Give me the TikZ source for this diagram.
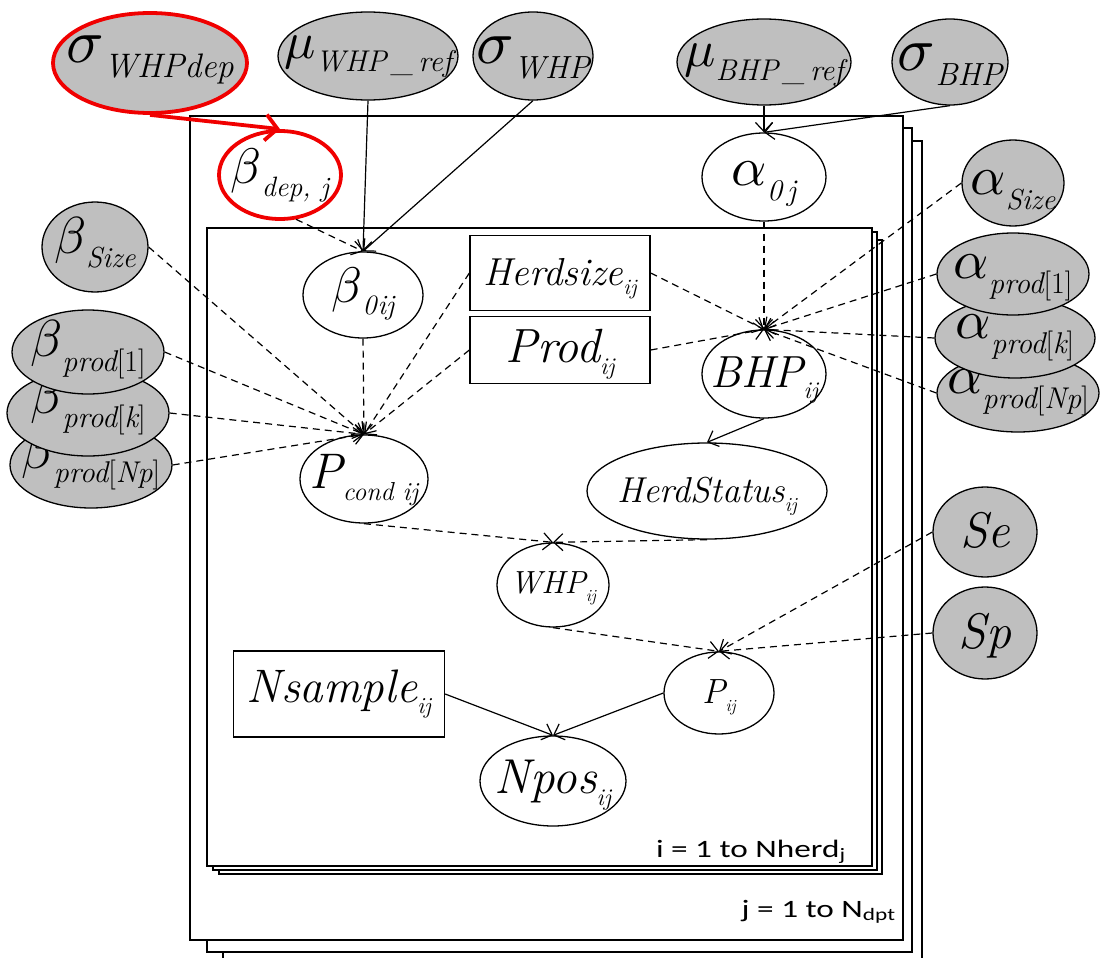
\documentclass[tikz,border=0pt]{standalone}
\usepackage{fontspec}
\newfontfamily\PlateFace{Carlito}
\usetikzlibrary{arrows.meta,shapes.geometric}
\definecolor{ObsFill}{RGB}{191,191,191}
\definecolor{HiDraw}{RGB}{240,0,0}
%% main symbol + lowered index, sizes in pt; the box takes no room, so the
%% shape keeps its minimum size; [#1] = drop of the baseline below the centre
\newcommand{\Lbl}[5][12pt]{\makebox[0pt]{\fontsize{#2}{#2}\selectfont
  \raisebox{-#1}[0pt][0pt]{#4\raisebox{-0.25em}{\fontsize{#3}{#3}\selectfont#5}}}}
%% greek letter, scaled up from 10pt
\newcommand{\Gk}[2]{\scalebox{#1}{\fontsize{10}{10}\selectfont$#2$}}
\newcommand{\PlateLbl}[1]{\scalebox{1.33}[1]{\fontsize{25}{25}\selectfont\PlateFace\upshape #1}}
\tikzset{
  every node/.style={align=center, font=\itshape},
  line cap=round,
  %% base variable
  rvNode/.style={
    ellipse,
    draw=black,
    line width=1.3pt,
    inner sep=0pt,
  },
  obsNode/.style={rvNode, fill=ObsFill},
  latNode/.style={rvNode, fill=white},
  hiNode/.style={rvNode, draw=HiDraw, line width=3.8pt},
  dataBlk/.style={
    rectangle,
    draw=black,
    line width=1.3pt,
    fill=white,
    inner sep=0pt,
  },
  plate/.style={draw=black, line width=1.6pt, fill=white},
  %% arrows
  arr/.style={
    -{Straight Barb[length=9pt,width=17pt,line width=1.2pt]},
    line width=1.2pt,
  },
  darr/.style={arr, dash pattern=on 7pt off 5pt},
  hiarr/.style={
    -{Straight Barb[length=12pt,width=26pt,line width=3.8pt]},
    line width=3.8pt,
    HiDraw,
  },
}

\begin{document}
\begin{tikzpicture}[x=1pt, y=-1pt]
\useasboundingbox (0,0) rectangle (1101,958);

%% ── Plates ─────────────────────────────────────────────────────────────────
\draw[plate] (223,141) rectangle (922,966);
\draw[plate] (207,128) rectangle (912,952);
\draw[plate] (190,116) rectangle (903,940);
\draw[plate] (219,240) rectangle (882,874);
\draw[plate] (213,232) rectangle (877,870);
\draw[plate] (207,228) rectangle (872,866);

\node[anchor=base east, inner sep=0pt] (iRange) at (846,857)
  {\PlateLbl{i = 1 to Nherd\textsubscript{j}}};
\node[anchor=base east, inner sep=0pt] (jRange) at (896,917)
  {\PlateLbl{j = 1 to N\textsubscript{dpt}}};

%% ── Hyper-priors ───────────────────────────────────────────────────────────
\node[obsNode, hiNode, minimum width=194pt, minimum height=100pt] (sWHPdep) at (150,63)
  {\Lbl[0pt]{60}{34}{\Gk{6.2}{\sigma}}{WHPdep}};
\node[obsNode, minimum width=180pt, minimum height=88pt] (mWHP) at (368,56)
  {\Lbl[2pt]{56}{30}{\Gk{5.2}{\mu}}{WHP\,\_\,ref}};
\node[obsNode, minimum width=120pt, minimum height=88pt] (sWHP) at (533,56)
  {\Lbl[8pt]{60}{32}{\Gk{6.2}{\sigma}}{WHP}};
\node[obsNode, minimum width=174pt, minimum height=86pt] (mBHP) at (764,62)
  {\Lbl[5pt]{56}{30}{\Gk{5.2}{\mu}}{BHP\,\_\,ref}};
\node[obsNode, minimum width=116pt, minimum height=86pt] (sBHP) at (950,62)
  {\Lbl[9pt]{60}{32}{\Gk{6.2}{\sigma}}{BHP}};

%% ── Department level ───────────────────────────────────────────────────────
\node[latNode, hiNode, minimum width=122pt, minimum height=88pt] (bDep) at (280,175)
  {\Lbl[8pt]{54}{28}{\Gk{5.0}{\beta}}{dep, j}};
\node[latNode, minimum width=124pt, minimum height=88pt] (a0) at (764,177)
  {\Lbl[8pt]{60}{30}{\Gk{5.5}{\alpha}}{0\,j}};

%% ── Covariate coefficients ─────────────────────────────────────────────────
\node[obsNode, minimum width=102pt, minimum height=86pt] (aSize) at (1013,183)
  {\Lbl[11pt]{60}{29}{\Gk{5.5}{\alpha}}{Size}};
\node[obsNode, minimum width=162pt, minimum height=78pt] (aProdN) at (1018,393)
  {\Lbl[0pt]{60}{30}{\Gk{5.5}{\alpha}}{prod{\upshape[}Np{\upshape]}}};
\node[obsNode, minimum width=160pt, minimum height=80pt] (aProdK) at (1015,338)
  {\Lbl[0pt]{60}{30}{\Gk{5.5}{\alpha}}{prod{\upshape[}k{\upshape]}}};
\node[obsNode, minimum width=152pt, minimum height=82pt] (aProd1) at (1013,274)
  {\Lbl[4pt]{60}{30}{\Gk{5.5}{\alpha}}{prod{\upshape[1]}}};

\node[obsNode, minimum width=106pt, minimum height=90pt] (bSize) at (95,247)
  {\Lbl[6pt]{56}{29}{\Gk{5.2}{\beta}}{Size}};
\node[obsNode, minimum width=162pt, minimum height=86pt] (bProdN) at (91,465)
  {\Lbl[3pt]{56}{30}{\Gk{5.2}{\beta}}{prod{\upshape[}Np{\upshape]}}};
\node[obsNode, minimum width=162pt, minimum height=86pt] (bProdK) at (88,413)
  {\Lbl[0pt]{56}{30}{\Gk{5.2}{\beta}}{prod{\upshape[}k{\upshape]}}};
\node[obsNode, minimum width=152pt, minimum height=84pt] (bProd1) at (88,352)
  {\Lbl[5pt]{56}{30}{\Gk{5.2}{\beta}}{prod{\upshape[1]}}};

%% ── Herd level ─────────────────────────────────────────────────────────────
\node[latNode, minimum width=120pt, minimum height=86pt] (b0) at (363,295)
  {\Lbl[7pt]{50}{28}{\Gk{5.0}{\beta}}{0\kern1pt ij}};
\node[dataBlk, minimum width=180pt, minimum height=75pt] (herdsize) at (560,273)
  {\Lbl[12pt]{39}{22}{Herdsize}{ij}};
\node[dataBlk, minimum width=180pt, minimum height=67pt] (prod) at (560,350)
  {\Lbl[12pt]{48}{24}{Prod}{ij}};
\node[latNode, minimum width=124pt, minimum height=88pt] (BHP) at (764,374)
  {\Lbl[13pt]{45}{24}{BHP}{ij}};
\node[latNode, minimum width=128pt, minimum height=88pt] (pCond) at (364,479)
  {\Lbl[9pt]{50}{26}{P}{cond ij}};
\node[latNode, minimum width=240pt, minimum height=96pt] (herdStatus) at (707,491)
  {\Lbl[11pt]{36}{20}{HerdStatus}{ij}};
\node[latNode, minimum width=112pt, minimum height=84pt] (WHP) at (553,585)
  {\Lbl[8pt]{32}{17}{WHP}{ij}};
\node[obsNode, minimum width=104pt, minimum height=90pt] (Se) at (985,532)
  {\Lbl[15pt]{50}{20}{Se}{}};
\node[obsNode, minimum width=104pt, minimum height=92pt] (Sp) at (985,633)
  {\Lbl[15pt]{50}{20}{Sp}{}};
\node[latNode, minimum width=110pt, minimum height=82pt] (pIJ) at (719,693)
  {\Lbl[10pt]{35}{17}{P}{ij}};
\node[dataBlk, minimum width=211pt, minimum height=86pt] (nSample) at (339,694)
  {\Lbl[8pt]{47}{23}{Nsample}{ij}};
\node[latNode, minimum width=146pt, minimum height=90pt] (nPos) at (553,781)
  {\Lbl[12pt]{49}{24}{Npos}{ij}};

%% ── Connectors ─────────────────────────────────────────────────────────────
\draw[hiarr] (sWHPdep.south) -- (bDep.north);
\draw[arr]  (mWHP.south) -- (b0.north);
\draw[arr]  (sWHP.south) -- (b0.north);
\draw[darr] (bDep.-70)   -- (b0.north);
\draw[arr]  (mBHP.south) -- (a0.north);
\draw[arr]  (sBHP.south) -- (a0.north);

\draw[darr] (b0.south)       -- (pCond.north);
\draw[darr] (bSize.east)     -- (pCond.north);
\draw[darr] (bProd1.east)    -- (pCond.north);
\draw[darr] (bProdK.east)    -- (pCond.north);
\draw[darr] (bProdN.east)    -- (pCond.north);
\draw[darr] (herdsize.west)  -- (pCond.north);
\draw[darr] (prod.west)      -- (pCond.north);

\draw[darr] (a0.south)       -- (BHP.north);
\draw[darr] (herdsize.east)  -- (BHP.north);
\draw[darr] (prod.east)      -- (BHP.north);
\draw[darr] (aSize.west)     -- (BHP.north);
\draw[darr] (aProd1.west)    -- (BHP.north);
\draw[darr] (aProdK.west)    -- (BHP.north);
\draw[darr] (aProdN.west)    -- (BHP.north);

\draw[arr]  (BHP.south)        -- (herdStatus.north);
\draw[darr] (pCond.south)      -- (WHP.north);
\draw[darr] (herdStatus.south) -- (WHP.north);

\draw[darr] (WHP.south) -- (pIJ.north);
\draw[darr] (Se.west)   -- (pIJ.north);
\draw[darr] (Sp.west)   -- (pIJ.north);

\draw[arr] (nSample.east) -- (nPos.north);
\draw[arr] (pIJ.west)     -- (nPos.north);

\end{tikzpicture}
\end{document}
